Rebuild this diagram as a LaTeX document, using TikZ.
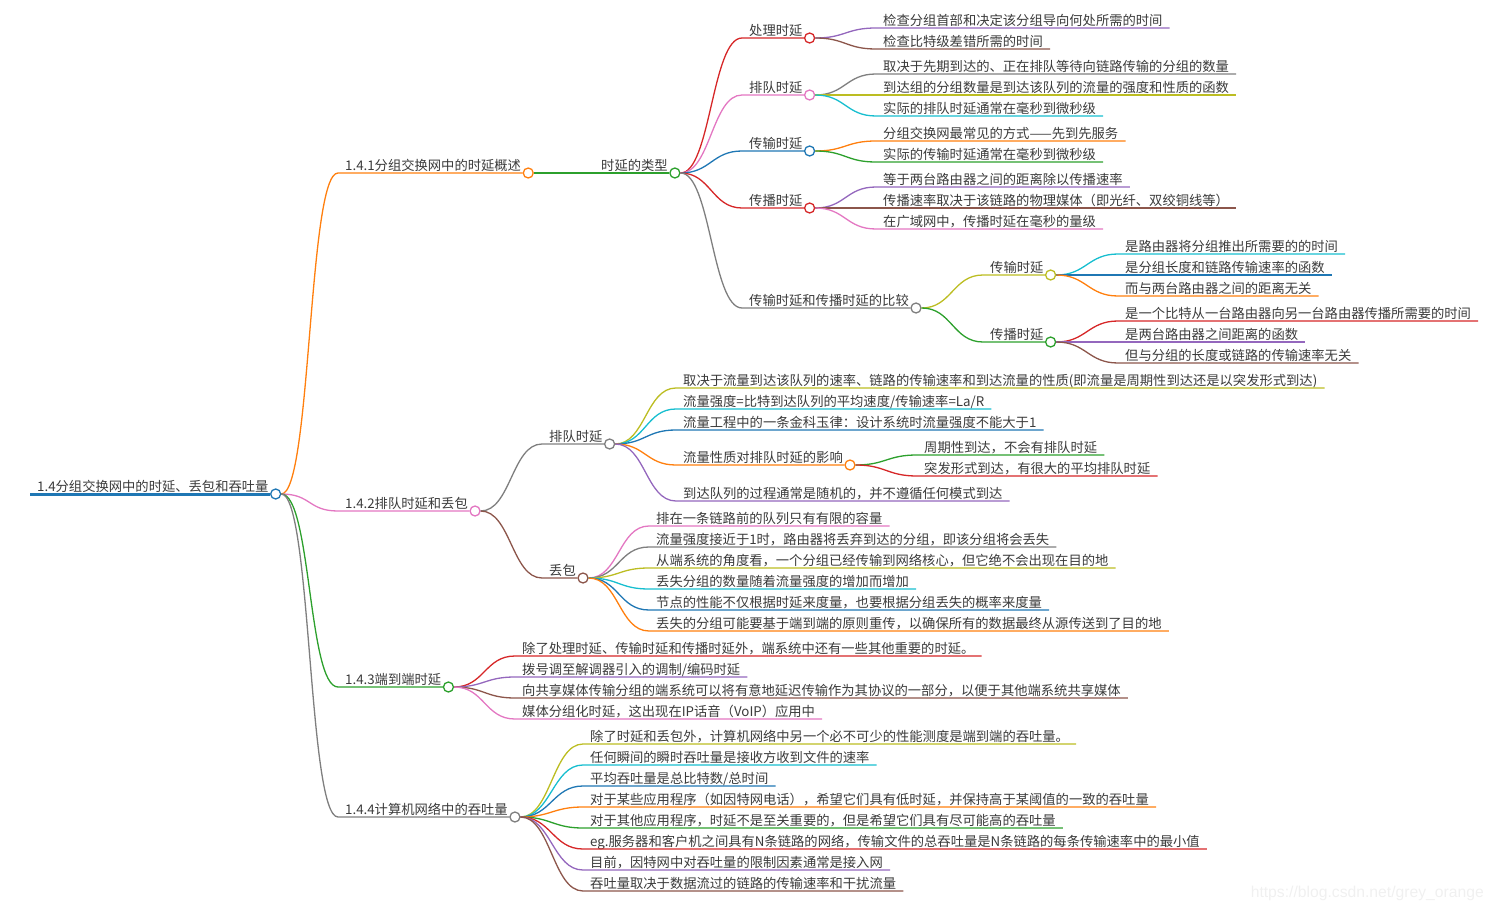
\documentclass[tikz,border=0pt]{standalone}
\usepackage{fontspec}
\newfontfamily\cjk{Noto Sans CJK SC}
\newfontfamily\wmfont{Liberation Sans}
\usetikzlibrary{calc}
\definecolor{inkgray}{HTML}{3A3A3A}
\definecolor{mBlue}{HTML}{1F77B4}
\definecolor{mOrange}{HTML}{FF7F0E}
\definecolor{mGreen}{HTML}{2CA02C}
\definecolor{mRed}{HTML}{D62728}
\definecolor{mPurple}{HTML}{9467BD}
\definecolor{mBrown}{HTML}{8C564B}
\definecolor{mPink}{HTML}{E377C2}
\definecolor{mGray}{HTML}{7F7F7F}
\definecolor{mOlive}{HTML}{BCBD22}
\definecolor{mCyan}{HTML}{17BECF}

\begin{document}
\begin{tikzpicture}[x=1pt, y=-1pt,
    topic/.style={anchor=south west, inner xsep=7pt, inner ysep=2.5pt, text height=11pt, text depth=0pt, font=\cjk\fontsize{13.3}{15}\selectfont, text=inkgray},
    dot/.style={circle, draw=#1, fill=white, line width=1.3pt, minimum size=10pt, inner sep=0pt},
    conn/.style={line width=1.3pt},
    sway/.style={to path={.. controls +(30,0) and +(-30,0) .. (\tikztotarget) \tikztonodes}}]
    \useasboundingbox (0,0) rectangle (1492,912);

    % Root
    \node (root) [topic] at (30,494) {1.4分组交换网中的时延、丢包和吞吐量};
    \node (rootc) [dot=mBlue] at (root.south east) {};
    \draw[mBlue, line width=3pt] (root.south west) -- (rootc.west);

    % 1.4.1 overview
    \node (over) [topic] at (338,173) {1.4.1分组交换网中的时延概述};
    \node (overc) [dot=mOrange] at (over.south east) {};
    \draw[mOrange, conn] (rootc.east) to[sway] (over.south west) -- (overc.west);

    \node (types) [topic] at (594,173) {时延的类型};
    \node (typesc) [dot=mGreen] at (types.south east) {};
    \draw[mGreen, conn] (overc.east) to[sway] (types.south west) -- (typesc.west);

    \node (proc) [topic] at (742,38) {处理时延};
    \node (procc) [dot=mRed] at (proc.south east) {};
    \draw[mRed, conn] (typesc.east) to[sway] (proc.south west) -- (procc.west);
    \node (procA) [topic] at (876,28) {检查分组首部和决定该分组导向何处所需的时间};
    \node (procB) [topic] at (876,49) {检查比特级差错所需的时间};
    \draw[mPurple, conn] (procc.east) to[sway] (procA.south west) -- (procA.south east);
    \draw[mBrown, conn] (procc.east) to[sway] (procB.south west) -- (procB.south east);

    \node (queue) [topic] at (742,95) {排队时延};
    \node (queuec) [dot=mPink] at (queue.south east) {};
    \draw[mPink, conn] (typesc.east) to[sway] (queue.south west) -- (queuec.west);
    \node (queueA) [topic] at (876,74) {取决于先期到达的、正在排队等待向链路传输的分组的数量};
    \node (queueB) [topic] at (876,95) {到达组的分组数量是到达该队列的流量的强度和性质的函数};
    \node (queueC) [topic] at (876,116) {实际的排队时延通常在毫秒到微秒级};
    \draw[mGray, conn] (queuec.east) to[sway] (queueA.south west) -- (queueA.south east);
    \draw[mOlive, conn] (queuec.east) to[sway] (queueB.south west) -- (queueB.south east);
    \draw[mCyan, conn] (queuec.east) to[sway] (queueC.south west) -- (queueC.south east);

    \node (trans) [topic] at (742,151) {传输时延};
    \node (transc) [dot=mBlue] at (trans.south east) {};
    \draw[mBlue, conn] (typesc.east) to[sway] (trans.south west) -- (transc.west);
    \node (transA) [topic] at (876,141) {分组交换网最常见的方式——先到先服务};
    \node (transB) [topic] at (876,162) {实际的传输时延通常在毫秒到微秒级};
    \draw[mOrange, conn] (transc.east) to[sway] (transA.south west) -- (transA.south east);
    \draw[mGreen, conn] (transc.east) to[sway] (transB.south west) -- (transB.south east);

    \node (prop) [topic] at (742,208) {传播时延};
    \node (propc) [dot=mRed] at (prop.south east) {};
    \draw[mRed, conn] (typesc.east) to[sway] (prop.south west) -- (propc.west);
    \node (propA) [topic] at (876,187) {等于两台路由器之间的距离除以传播速率};
    \node (propB) [topic] at (876,208) {传播速率取决于该链路的物理媒体（即光纤、双绞铜线等）};
    \node (propC) [topic] at (876,229) {在广域网中，传播时延在毫秒的量级};
    \draw[mPurple, conn] (propc.east) to[sway] (propA.south west) -- (propA.south east);
    \draw[mBrown, conn] (propc.east) to[sway] (propB.south west) -- (propB.south east);
    \draw[mPink, conn] (propc.east) to[sway] (propC.south west) -- (propC.south east);

    % comparison
    \node (cmp) [topic] at (742,308) {传输时延和传播时延的比较};
    \node (cmpc) [dot=mGray] at (cmp.south east) {};
    \draw[mGray, conn] (typesc.east) to[sway] (cmp.south west) -- (cmpc.west);

    \node (cmpT) [topic] at (983,275) {传输时延};
    \node (cmpTc) [dot=mOlive] at (cmpT.south east) {};
    \draw[mOlive, conn] (cmpc.east) to[sway] (cmpT.south west) -- (cmpTc.west);
    \node (cmpTA) [topic] at (1118,254) {是路由器将分组推出所需要的的时间};
    \node (cmpTB) [topic] at (1118,275) {是分组长度和链路传输速率的函数};
    \node (cmpTC) [topic] at (1118,296) {而与两台路由器之间的距离无关};
    \draw[mCyan, conn] (cmpTc.east) to[sway] (cmpTA.south west) -- (cmpTA.south east);
    \draw[mBlue, conn] (cmpTc.east) to[sway] (cmpTB.south west) -- (cmpTB.south east);
    \draw[mOrange, conn] (cmpTc.east) to[sway] (cmpTC.south west) -- (cmpTC.south east);

    \node (cmpP) [topic] at (983,342) {传播时延};
    \node (cmpPc) [dot=mGreen] at (cmpP.south east) {};
    \draw[mGreen, conn] (cmpc.east) to[sway] (cmpP.south west) -- (cmpPc.west);
    \node (cmpPA) [topic] at (1118,321) {是一个比特从一台路由器向另一台路由器传播所需要的时间};
    \node (cmpPB) [topic] at (1118,342) {是两台路由器之间距离的函数};
    \node (cmpPC) [topic] at (1118,363) {但与分组的长度或链路的传输速率无关};
    \draw[mRed, conn] (cmpPc.east) to[sway] (cmpPA.south west) -- (cmpPA.south east);
    \draw[mPurple, conn] (cmpPc.east) to[sway] (cmpPB.south west) -- (cmpPB.south east);
    \draw[mBrown, conn] (cmpPc.east) to[sway] (cmpPC.south west) -- (cmpPC.south east);

    % 1.4.2 queueing delay and loss
    \node (ql) [topic] at (338,511) {1.4.2排队时延和丢包};
    \node (qlc) [dot=mPink] at (ql.south east) {};
    \draw[mPink, conn] (rootc.east) to[sway] (ql.south west) -- (qlc.west);

    \node (qd) [topic] at (542,444) {排队时延};
    \node (qdc) [dot=mGray] at (qd.south east) {};
    \draw[mGray, conn] (qlc.east) to[sway] (qd.south west) -- (qdc.west);
    \node (qdA) [topic] at (676,388) {取决于流量到达该队列的速率、链路的传输速率和到达流量的性质(即流量是周期性到达还是以突发形式到达)};
    \node (qdB) [topic] at (676,409) {流量强度=比特到达队列的平均速度/传输速率=La/R};
    \node (qdC) [topic] at (676,430) {流量工程中的一条金科玉律：设计系统时流量强度不能大于1};
    \node (nature) [topic] at (676,465) {流量性质对排队时延的影响};
    \node (naturec) [dot=mOrange] at (nature.south east) {};
    \node (qdD) [topic] at (676,501) {到达队列的过程通常是随机的，并不遵循任何模式到达};
    \draw[mOlive, conn] (qdc.east) to[sway] (qdA.south west) -- (qdA.south east);
    \draw[mCyan, conn] (qdc.east) to[sway] (qdB.south west) -- (qdB.south east);
    \draw[mBlue, conn] (qdc.east) to[sway] (qdC.south west) -- (qdC.south east);
    \draw[mOrange, conn] (qdc.east) to[sway] (nature.south west) -- (naturec.west);
    \draw[mPurple, conn] (qdc.east) to[sway] (qdD.south west) -- (qdD.south east);
    \node (natA) [topic] at (917,455) {周期性到达，不会有排队时延};
    \node (natB) [topic] at (917,476) {突发形式到达，有很大的平均排队时延};
    \draw[mGreen, conn] (naturec.east) to[sway] (natA.south west) -- (natA.south east);
    \draw[mRed, conn] (naturec.east) to[sway] (natB.south west) -- (natB.south east);

    \node (loss) [topic] at (542,578) {丢包};
    \node (lossc) [dot=mBrown] at (loss.south east) {};
    \draw[mBrown, conn] (qlc.east) to[sway] (loss.south west) -- (lossc.west);
    \node (lossA) [topic] at (649,526) {排在一条链路前的队列只有有限的容量};
    \node (lossB) [topic] at (649,547) {流量强度接近于1时，路由器将丢弃到达的分组，即该分组将会丢失};
    \node (lossC) [topic] at (649,568) {从端系统的角度看，一个分组已经传输到网络核心，但它绝不会出现在目的地};
    \node (lossD) [topic] at (649,589) {丢失分组的数量随着流量强度的增加而增加};
    \node (lossE) [topic] at (649,610) {节点的性能不仅根据时延来度量，也要根据分组丢失的概率来度量};
    \node (lossF) [topic] at (649,631) {丢失的分组可能要基于端到端的原则重传，以确保所有的数据最终从源传送到了目的地};
    \draw[mPink, conn] (lossc.east) to[sway] (lossA.south west) -- (lossA.south east);
    \draw[mGray, conn] (lossc.east) to[sway] (lossB.south west) -- (lossB.south east);
    \draw[mOlive, conn] (lossc.east) to[sway] (lossC.south west) -- (lossC.south east);
    \draw[mCyan, conn] (lossc.east) to[sway] (lossD.south west) -- (lossD.south east);
    \draw[mBlue, conn] (lossc.east) to[sway] (lossE.south west) -- (lossE.south east);
    \draw[mOrange, conn] (lossc.east) to[sway] (lossF.south west) -- (lossF.south east);

    % 1.4.3 end-to-end delay
    \node (e2e) [topic] at (338,687) {1.4.3端到端时延};
    \node (e2ec) [dot=mGreen] at (e2e.south east) {};
    \draw[mGreen, conn] (rootc.east) to[sway] (e2e.south west) -- (e2ec.west);
    \node (e2eA) [topic] at (515,656) {除了处理时延、传输时延和传播时延外，端系统中还有一些其他重要的时延。};
    \node (e2eB) [topic] at (515,677) {拨号调至解调器引入的调制/编码时延};
    \node (e2eC) [topic] at (515,698) {向共享媒体传输分组的端系统可以将有意地延迟传输作为其协议的一部分，以便于其他端系统共享媒体};
    \node (e2eD) [topic] at (515,719) {媒体分组化时延，这出现在IP话音（VoIP）应用中};
    \draw[mRed, conn] (e2ec.east) to[sway] (e2eA.south west) -- (e2eA.south east);
    \draw[mPurple, conn] (e2ec.east) to[sway] (e2eB.south west) -- (e2eB.south east);
    \draw[mBrown, conn] (e2ec.east) to[sway] (e2eC.south west) -- (e2eC.south east);
    \draw[mPink, conn] (e2ec.east) to[sway] (e2eD.south west) -- (e2eD.south east);

    % 1.4.4 throughput
    \node (thr) [topic] at (338,817) {1.4.4计算机网络中的吞吐量};
    \node (thrc) [dot=mGray] at (thr.south east) {};
    \draw[mGray, conn] (rootc.east) to[sway] (thr.south west) -- (thrc.west);
    \node (thrA) [topic] at (583,744) {除了时延和丢包外，计算机网络中另一个必不可少的性能测度是端到端的吞吐量。};
    \node (thrB) [topic] at (583,765) {任何瞬间的瞬时吞吐量是接收方收到文件的速率};
    \node (thrC) [topic] at (583,786) {平均吞吐量是总比特数/总时间};
    \node (thrD) [topic] at (583,807) {对于某些应用程序（如因特网电话），希望它们具有低时延，并保持高于某阈值的一致的吞吐量};
    \node (thrE) [topic] at (583,828) {对于其他应用程序，时延不是至关重要的，但是希望它们具有尽可能高的吞吐量};
    \node (thrF) [topic] at (583,849) {eg.服务器和客户机之间具有N条链路的网络，传输文件的总吞吐量是N条链路的每条传输速率中的最小值};
    \node (thrG) [topic] at (583,870) {目前，因特网中对吞吐量的限制因素通常是接入网};
    \node (thrH) [topic] at (583,891) {吞吐量取决于数据流过的链路的传输速率和干扰流量};
    \draw[mOlive, conn] (thrc.east) to[sway] (thrA.south west) -- (thrA.south east);
    \draw[mCyan, conn] (thrc.east) to[sway] (thrB.south west) -- (thrB.south east);
    \draw[mBlue, conn] (thrc.east) to[sway] (thrC.south west) -- (thrC.south east);
    \draw[mOrange, conn] (thrc.east) to[sway] (thrD.south west) -- (thrD.south east);
    \draw[mGreen, conn] (thrc.east) to[sway] (thrE.south west) -- (thrE.south east);
    \draw[mRed, conn] (thrc.east) to[sway] (thrF.south west) -- (thrF.south east);
    \draw[mPurple, conn] (thrc.east) to[sway] (thrG.south west) -- (thrG.south east);
    \draw[mBrown, conn] (thrc.east) to[sway] (thrH.south west) -- (thrH.south east);

    % watermark
    \node (wm) [anchor=east, inner sep=0pt, font=\wmfont\fontsize{15.7}{18}\selectfont, text=gray!12] at (1484,893) {https://blog.csdn.net/grey\_orange};
\end{tikzpicture}
\end{document}
